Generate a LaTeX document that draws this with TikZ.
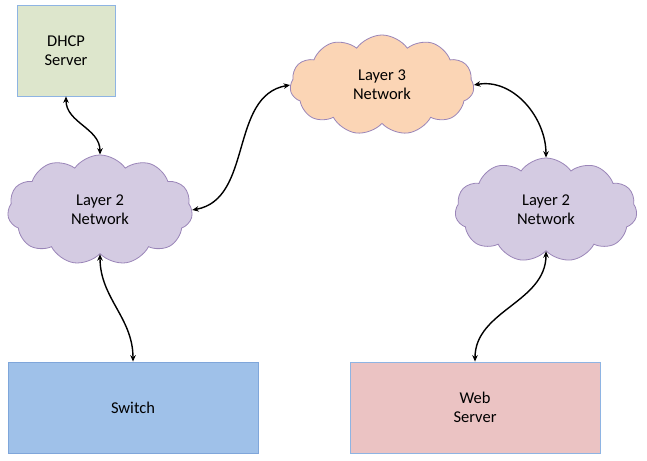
\documentclass[tikz,border=0pt]{standalone}
\usepackage{fontspec}
\setmainfont{Carlito}
\usetikzlibrary{shapes.symbols,arrows.meta}
\definecolor{dhcpfill}{HTML}{DDE6CC}
\definecolor{boxline}{HTML}{8EB4E3}
\definecolor{switchline}{HTML}{7FA6DA}
\definecolor{cloudpurple}{HTML}{D4CBE2}
\definecolor{cloudline}{HTML}{9A85B8}
\definecolor{cloudpeach}{HTML}{FBD5B5}
\definecolor{switchfill}{HTML}{9FC1E9}
\definecolor{webfill}{HTML}{EBC3C3}
\tikzset{
  box/.style={draw=boxline, line width=0.8pt, align=center, font=\fontsize{16.5}{19}\selectfont},
  netcloud/.style={cloud, cloud puffs=11, cloud puff arc=110, aspect=1.7, draw=cloudline,
    line width=0.8pt, align=center, font=\fontsize{16.5}{19}\selectfont},
  link/.style={<->, >={Stealth[length=6.5pt,width=5.5pt]}, line width=1.4pt}
}
\begin{document}
\begin{tikzpicture}[x=1pt,y=1pt]
			%%%%% START %%%%%
			\useasboundingbox (0,0) rectangle (647,460);
			
			\node[box, fill=dhcpfill, minimum width=98pt, minimum height=91pt] (dhcp) at (66, 409.5) {DHCP\\Server};
			\node[box, fill=switchfill, draw=switchline, minimum width=250pt, minimum height=91pt] (switch) at (133, 52.5) {Switch};
			\node[box, fill=webfill, minimum width=250pt, minimum height=91pt] (web) at (475, 52.5) {Web\\Server};
			
			\node[netcloud, fill=cloudpurple, minimum width=185pt, minimum height=110pt] (leftnet) at (100, 250) {Layer 2\\Network};
			\node[netcloud, fill=cloudpeach, minimum width=184pt, minimum height=100pt] (corenet) at (382, 375) {Layer 3\\Network};
			\node[netcloud, fill=cloudpurple, minimum width=182pt, minimum height=104pt] (rightnet) at (546, 250) {Layer 2\\Network};
			
			\draw[link] (dhcp.south) to[out=-90, in=90] (leftnet.north);
			\draw[link] (leftnet.east) to[out=10, in=190] (corenet.west);
			\draw[link] (corenet.east) to[out=10, in=90] (rightnet.north);
			\draw[link] (leftnet.south) to[out=-90, in=90] (switch.north);
			\draw[link] (rightnet.south) to[out=-90, in=90] (web.north);
			
			%%%%% END %%%%%
\end{tikzpicture}
\end{document}
